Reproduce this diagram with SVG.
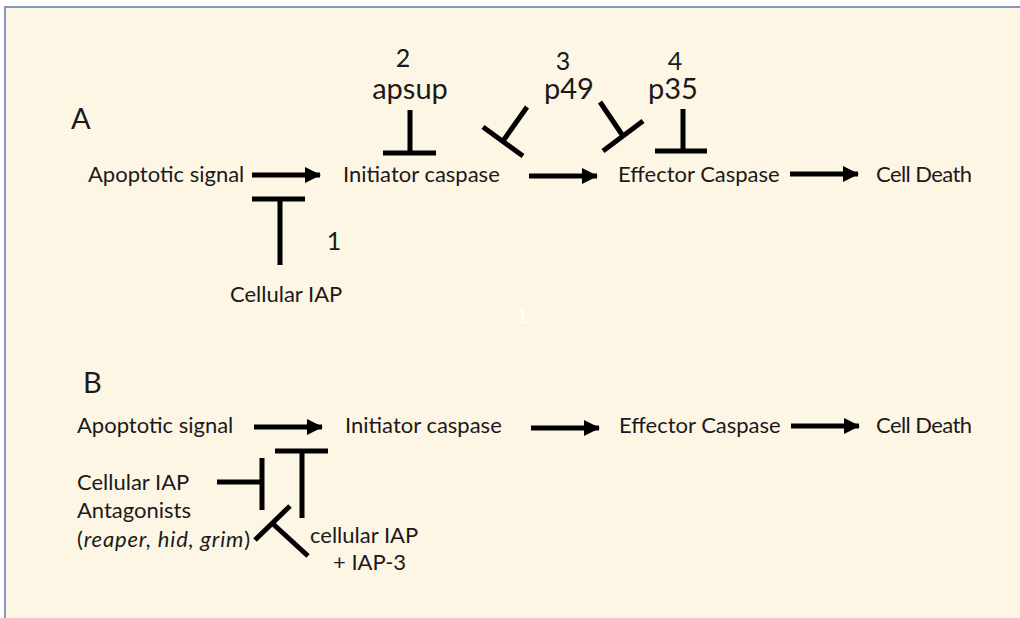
<svg xmlns="http://www.w3.org/2000/svg" width="1020" height="618" viewBox="0 0 1020 618">
  <style>
    .lbl { font-family: Lato, "Open Sans", "Liberation Sans", sans-serif; font-size: 22px; fill: #1a1a1a; }
    .big { font-family: Lato, "Open Sans", "Liberation Sans", sans-serif; font-size: 29px; fill: #1a1a1a; }
    .num { font-family: Lato, "Open Sans", "Liberation Sans", sans-serif; font-size: 25px; fill: #1a1a1a; text-anchor: middle; }
    .mid { text-anchor: middle; }
    .act { stroke: #000; stroke-width: 5; fill: none; marker-end: url(#head); }
    .inh { stroke: #000; stroke-width: 5; fill: none; stroke-linecap: butt; }
  </style>
  <defs>
    <marker id="head" markerUnits="userSpaceOnUse" markerWidth="16" markerHeight="16" viewBox="0 0 16 16" refX="15" refY="8" orient="auto">
      <path d="M0,0 L16,8 L0,16 Z" fill="#000"/>
    </marker>
  </defs>

  <!-- page background and frame -->
  <rect x="0" y="0" width="1020" height="618" fill="#ffffff"/>
  <rect x="5" y="7" width="1030" height="620" fill="#fef6e4" stroke="#8798c0" stroke-width="2"/>

  <!-- Panel A -->
  <g id="labelA"><text class="big" x="71" y="129">A</text></g>
  <g id="a-signal"><text class="lbl" x="88" y="182">Apoptotic signal</text></g>
  <g id="a-initiator"><text class="lbl" x="343" y="182">Initiator caspase</text></g>
  <g id="a-effector"><text class="lbl" x="618" y="182">Effector Caspase</text></g>
  <g id="a-death"><text class="lbl" x="876" y="182" textLength="96">Cell Death</text></g>
  <g id="a-ciap">
    <text class="lbl" x="230" y="302">Cellular IAP</text>
    <text class="num" x="334" y="250">1</text>
  </g>
  <g id="a-apsup">
    <text class="num" x="403" y="67">2</text>
    <text class="big mid" x="410" y="99">apsup</text>
  </g>
  <g id="a-p49">
    <text class="num" x="563" y="70">3</text>
    <text class="big mid" x="569" y="99">p49</text>
  </g>
  <g id="a-p35">
    <text class="num" x="675" y="70">4</text>
    <text class="big mid" x="673" y="99">p35</text>
  </g>

  <g id="a-connectors">
    <line class="act" x1="252" y1="175" x2="320" y2="175"/>
    <line class="act" x1="529" y1="176" x2="597" y2="176"/>
    <line class="act" x1="790" y1="174" x2="858" y2="174"/>
    <!-- cellular IAP blocks signal -> initiator -->
    <line class="inh" x1="280" y1="199" x2="280" y2="265"/>
    <line class="inh" x1="252" y1="199" x2="305" y2="199"/>
    <!-- apsup -| initiator -->
    <line class="inh" x1="410" y1="110" x2="410" y2="153"/>
    <line class="inh" x1="383" y1="153" x2="436" y2="153"/>
    <!-- p49 -| initiator -->
    <line class="inh" x1="527" y1="107" x2="503" y2="141"/>
    <line class="inh" x1="483" y1="127" x2="523" y2="156"/>
    <!-- p49 -| effector -->
    <line class="inh" x1="600" y1="102" x2="623" y2="136"/>
    <line class="inh" x1="603" y1="151" x2="643" y2="121"/>
    <!-- p35 -| effector -->
    <line class="inh" x1="683" y1="109" x2="683" y2="151"/>
    <line class="inh" x1="655" y1="151" x2="707" y2="151"/>
  </g>

  <text x="522" y="323" font-family="Lato, sans-serif" font-size="20" fill="#ffffff" text-anchor="middle">1</text>

  <!-- Panel B -->
  <g id="labelB"><text class="big" x="83" y="393">B</text></g>
  <g id="b-signal"><text class="lbl" x="77" y="433">Apoptotic signal</text></g>
  <g id="b-initiator"><text class="lbl" x="345" y="433">Initiator caspase</text></g>
  <g id="b-effector"><text class="lbl" x="619" y="433">Effector Caspase</text></g>
  <g id="b-death"><text class="lbl" x="876" y="433" textLength="96">Cell Death</text></g>
  <g id="b-antagonists">
    <text class="lbl" x="77" y="490">Cellular IAP</text>
    <text class="lbl" x="77" y="518">Antagonists</text>
    <text class="lbl" x="77" y="547" textLength="173">(<tspan font-style="italic">reaper, hid, grim</tspan>)</text>
  </g>
  <g id="b-ciap">
    <text class="lbl" x="310" y="543">cellular IAP</text>
    <text class="lbl" x="333" y="570">+ IAP-3</text>
  </g>

  <g id="b-connectors">
    <line class="act" x1="254" y1="427" x2="322" y2="427"/>
    <line class="act" x1="531" y1="428" x2="599" y2="428"/>
    <line class="act" x1="791" y1="426" x2="859" y2="426"/>
    <!-- antagonists -| cellular IAP -->
    <line class="inh" x1="217" y1="482" x2="262" y2="482"/>
    <line class="inh" x1="262" y1="458" x2="262" y2="510"/>
    <!-- cellular IAP -| signal -> initiator -->
    <line class="inh" x1="302" y1="451" x2="302" y2="518"/>
    <line class="inh" x1="275" y1="451" x2="328" y2="451"/>
    <!-- cellular IAP + IAP-3 -| antagonists -->
    <line class="inh" x1="308" y1="556" x2="272" y2="523"/>
    <line class="inh" x1="255" y1="540" x2="290" y2="506"/>
  </g>
</svg>
